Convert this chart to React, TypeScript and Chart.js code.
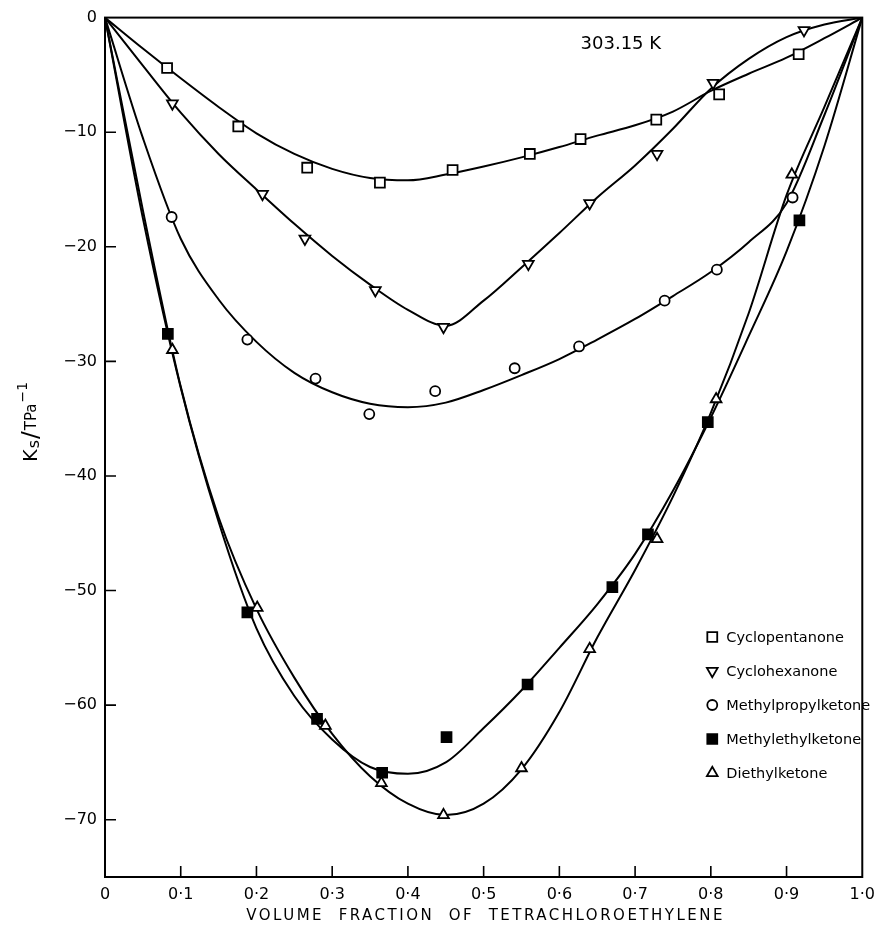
import React, { useEffect, useRef } from 'react';
import { Chart, registerables } from 'chart.js';

Chart.register(...registerables);

// ---- Data ----
const xTickValues = [0, 0.1, 0.2, 0.3, 0.4, 0.5, 0.6, 0.7, 0.8, 0.9, 1.0];
const xTickLabels = ['0', '0·1', '0·2', '0·3', '0·4', '0·5', '0·6', '0·7', '0·8', '0·9', '1·0'];
const yTickValues = [0, -10, -20, -30, -40, -50, -60, -70];
const yTickLabels = ['0', '−10', '−20', '−30', '−40', '−50', '−60', '−70'];

const seriesNames = ['Cyclopentanone', 'Cyclohexanone', 'Methylpropylketone', 'Methylethylketone', 'Diethylketone'];

// measured points
const cyclopentanoneX = [0.082, 0.176, 0.267, 0.363, 0.459, 0.561, 0.628, 0.728, 0.811, 0.916];
const cyclopentanoneY = [-4.4, -9.5, -13.1, -14.4, -13.3, -11.9, -10.6, -8.9, -6.7, -3.2];
const cyclohexanoneX = [0.089, 0.208, 0.264, 0.357, 0.447, 0.559, 0.64, 0.729, 0.803, 0.923];
const cyclohexanoneY = [-7.5, -15.4, -19.3, -23.8, -27.0, -21.5, -16.2, -11.9, -5.7, -1.1];
const methylpropylX = [0.088, 0.188, 0.278, 0.349, 0.436, 0.541, 0.626, 0.739, 0.808, 0.908];
const methylpropylY = [-17.4, -28.1, -31.5, -34.6, -32.6, -30.6, -28.7, -24.7, -22.0, -15.7];
const methylethylX = [0.083, 0.188, 0.28, 0.366, 0.451, 0.558, 0.67, 0.717, 0.796, 0.917];
const methylethylY = [-27.6, -51.9, -61.2, -65.9, -62.8, -58.2, -49.7, -45.1, -35.3, -17.7];
const diethylX = [0.089, 0.201, 0.291, 0.365, 0.447, 0.55, 0.64, 0.729, 0.807, 0.907];
const diethylY = [-29.0, -51.5, -61.8, -66.8, -69.6, -65.5, -55.1, -45.5, -33.3, -13.7];

// fitted curves
const curveX = [0, 0.05, 0.1, 0.15, 0.2, 0.25, 0.3, 0.35, 0.4, 0.45, 0.5, 0.55, 0.6, 0.65, 0.7, 0.75, 0.8, 0.85, 0.9, 0.95, 1.0];
const cyclopentanoneCurve = [0, -2.7, -5.3, -7.8, -10.1, -11.9, -13.2, -14.0, -14.2, -13.7, -13.0, -12.2, -11.3, -10.3, -9.4, -8.2, -6.4, -4.9, -3.5, -1.8, 0];
const cyclohexanoneCurve = [0, -4.2, -8.3, -11.9, -15.0, -18.0, -20.8, -23.3, -25.5, -26.9, -24.7, -21.8, -18.8, -15.7, -12.9, -9.7, -6.2, -3.6, -1.7, -0.6, 0];
const methylpropylCurve = [0, -10.5, -19.3, -24.6, -28.3, -31.0, -32.7, -33.7, -34.0, -33.6, -32.5, -31.2, -29.8, -28.1, -26.3, -24.3, -22.2, -19.6, -16.2, -8.5, 0];
const methylethylCurve = [0, -17.5, -32.3, -44.0, -53.3, -59.2, -63.0, -65.4, -66.0, -65.0, -62.0, -58.7, -55.0, -51.2, -46.8, -41.3, -34.9, -27.8, -20.4, -11.2, 0];
const diethylCurve = [0, -16.8, -32.2, -43.6, -51.6, -57.6, -62.5, -66.2, -68.6, -69.6, -68.6, -65.6, -60.6, -54.1, -48.2, -41.8, -34.5, -25.8, -15.5, -7.8, 0];

const annotationText = '303.15 K';
const annotationX = 0.628;
const annotationY = -2.3;
const xTitle = 'VOLUME  FRACTION  OF  TETRACHLOROETHYLENE';

const FONT = '"DejaVu Sans", sans-serif';

type MarkerDef = { style: string; radius: number; rotation: number; filled: boolean };
const markers: MarkerDef[] = [
  { style: 'rect', radius: 7, rotation: 0, filled: false },
  { style: 'triangle', radius: 6.2, rotation: 180, filled: false },
  { style: 'circle', radius: 5, rotation: 0, filled: false },
  { style: 'rect', radius: 7, rotation: 0, filled: true },
  { style: 'triangle', radius: 6.2, rotation: 0, filled: false },
];

function drawMarker(ctx: CanvasRenderingContext2D, m: MarkerDef, x: number, y: number) {
  ctx.beginPath();
  if (m.style === 'rect') {
    const s = m.radius * Math.SQRT2;
    ctx.rect(x - s / 2, y - s / 2, s, s);
  } else if (m.style === 'circle') {
    ctx.arc(x, y, m.radius, 0, Math.PI * 2);
  } else {
    const rot = (m.rotation * Math.PI) / 180;
    for (let i = 0; i < 3; i++) {
      const a = rot + (i * 2 * Math.PI) / 3;
      const px = x + Math.sin(a) * m.radius;
      const py = y - Math.cos(a) * m.radius;
      if (i === 0) ctx.moveTo(px, py);
      else ctx.lineTo(px, py);
    }
    ctx.closePath();
  }
  ctx.fillStyle = m.filled ? '#000' : '#fff';
  ctx.fill();
  ctx.lineWidth = 1.8;
  ctx.strokeStyle = '#000';
  ctx.stroke();
}

const decorPlugin = {
  id: 'decor',
  afterDatasetsDraw(chart: any) {
    const { ctx, chartArea: a, scales } = chart;
    const xs = scales.x;
    const ys = scales.y;
    ctx.save();
    // frame
    ctx.strokeStyle = '#000';
    ctx.lineWidth = 2;
    ctx.strokeRect(a.left, a.top, a.right - a.left, a.bottom - a.top);
    // inward ticks
    ctx.beginPath();
    xs.ticks.forEach((t: any) => {
      const p = xs.getPixelForValue(t.value);
      if (p > a.left + 2 && p < a.right - 2) {
        ctx.moveTo(p, a.bottom);
        ctx.lineTo(p, a.bottom - 11);
      }
    });
    ys.ticks.forEach((t: any) => {
      const p = ys.getPixelForValue(t.value);
      if (p > a.top + 2 && p < a.bottom - 2) {
        ctx.moveTo(a.left, p);
        ctx.lineTo(a.left + 11, p);
      }
    });
    ctx.lineWidth = 1.6;
    ctx.stroke();

    ctx.fillStyle = '#000';
    // annotation
    ctx.font = `18px ${FONT}`;
    ctx.textAlign = 'left';
    ctx.textBaseline = 'middle';
    ctx.fillText(annotationText, xs.getPixelForValue(annotationX), ys.getPixelForValue(annotationY));

    // legend
    const legX = a.right - 150;
    const legY0 = a.bottom - 240;
    const legStep = 34;
    ctx.font = `14.5px ${FONT}`;
    seriesNames.forEach((name, i) => {
      const y = legY0 + i * legStep;
      drawMarker(ctx, markers[i], legX, y);
      ctx.fillStyle = '#000';
      ctx.textAlign = 'left';
      ctx.textBaseline = 'middle';
      ctx.fillText(name, legX + 14, y + 1);
    });

    // x title
    ctx.font = `15px ${FONT}`;
    (ctx as any).letterSpacing = '2.5px';
    ctx.textAlign = 'center';
    ctx.textBaseline = 'middle';
    ctx.fillText(xTitle, (a.left + a.right) / 2 + 2, a.bottom + 39);
    (ctx as any).letterSpacing = '0px';

    // y title  K_s / TPa^-1
    ctx.translate(a.left - 73, (a.top + a.bottom) / 2 - 26);
    ctx.rotate(-Math.PI / 2);
    const segs = [
      { t: 'K', size: 19, dy: 0 },
      { t: 's', size: 16, dy: 3 },
      { t: '/', size: 23, dy: 0 },
      { t: 'TPa', size: 15, dy: 0 },
      { t: '−1', size: 14, dy: -9 },
    ];
    let total = 0;
    const widths = segs.map((s) => {
      ctx.font = `${s.size}px ${FONT}`;
      const w = ctx.measureText(s.t).width + 1;
      total += w;
      return w;
    });
    let cx = -total / 2;
    ctx.textAlign = 'left';
    ctx.textBaseline = 'middle';
    segs.forEach((s, i) => {
      ctx.font = `${s.size}px ${FONT}`;
      ctx.fillText(s.t, cx, s.dy);
      cx += widths[i];
    });
    ctx.restore();
  },
};

function toPoints(xs: number[], ys: number[]) {
  return xs.map((x, i) => ({ x, y: ys[i] }));
}

export default function App() {
  const canvasRef = useRef<HTMLCanvasElement | null>(null);

  useEffect(() => {
    if (!canvasRef.current) return;
    const pointSets = [
      toPoints(cyclopentanoneX, cyclopentanoneY),
      toPoints(cyclohexanoneX, cyclohexanoneY),
      toPoints(methylpropylX, methylpropylY),
      toPoints(methylethylX, methylethylY),
      toPoints(diethylX, diethylY),
    ];
    const curves = [cyclopentanoneCurve, cyclohexanoneCurve, methylpropylCurve, methylethylCurve, diethylCurve];

    const lineDatasets = curves.map((c, i) => ({
      type: 'line' as const,
      label: seriesNames[i] + ' fit',
      data: toPoints(curveX, c),
      borderColor: '#000',
      borderWidth: 2,
      pointRadius: 0,
      cubicInterpolationMode: 'monotone' as const,
      fill: false,
      order: 2,
    }));
    const pointDatasets = pointSets.map((p, i) => ({
      type: 'scatter' as const,
      label: seriesNames[i],
      data: p,
      pointStyle: markers[i].style,
      pointRadius: markers[i].radius,
      pointRotation: markers[i].rotation,
      backgroundColor: markers[i].filled ? '#000' : '#fff',
      borderColor: '#000',
      borderWidth: 1.8,
      showLine: false,
      order: 1,
    }));

    const chart = new Chart(canvasRef.current, {
      type: 'line',
      data: { datasets: [...lineDatasets, ...pointDatasets] as any },
      options: {
        animation: false,
        responsive: true,
        maintainAspectRatio: false,
        devicePixelRatio: 1,
        layout: { padding: { top: 16, right: 20, left: 0, bottom: 0 } },
        plugins: { legend: { display: false }, tooltip: { enabled: false } },
        scales: {
          x: {
            type: 'linear',
            min: 0,
            max: 1,
            afterBuildTicks: (s: any) => {
              s.ticks = xTickValues.map((v) => ({ value: v }));
            },
            afterFit: (s: any) => {
              s.height = 59;
            },
            ticks: {
              autoSkip: false,
              maxRotation: 0,
              padding: 8,
              color: '#000',
              font: { family: FONT, size: 16 },
              callback: (v: any) => {
                const i = xTickValues.findIndex((t) => Math.abs(t - Number(v)) < 1e-6);
                return i >= 0 ? xTickLabels[i] : '';
              },
            },
            grid: { display: false, drawTicks: false },
            border: { display: false },
          },
          y: {
            type: 'linear',
            min: -75,
            max: 0,
            afterBuildTicks: (s: any) => {
              s.ticks = yTickValues.map((v) => ({ value: v }));
            },
            afterFit: (s: any) => {
              s.width = 105;
            },
            ticks: {
              autoSkip: false,
              padding: 8,
              color: '#000',
              font: { family: FONT, size: 16 },
              callback: (v: any) => {
                const i = yTickValues.findIndex((t) => Math.abs(t - Number(v)) < 1e-6);
                return i >= 0 ? yTickLabels[i] : '';
              },
            },
            grid: { display: false, drawTicks: false },
            border: { display: false },
          },
        },
      } as any,
      plugins: [decorPlugin],
    });
    return () => chart.destroy();
  }, []);

  return (
    <div style={{ position: 'absolute', left: 0, top: 0, width: 883, height: 936, background: '#fff' }}>
      <canvas ref={canvasRef} />
    </div>
  );
}
